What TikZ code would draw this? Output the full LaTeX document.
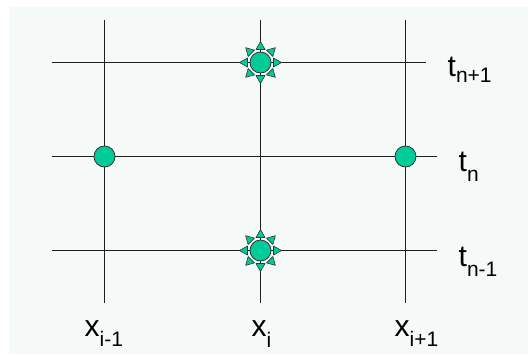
\documentclass[tikz,border=0pt]{standalone}
\usepackage{fontspec}
\setmainfont{Liberation Sans}
\definecolor{bgmint}{HTML}{F5FAF8}
\definecolor{ptgreen}{HTML}{00CC99}
\tikzset{
  gridline/.style={line width=1.1pt, draw=black!88},
  dot/.style={circle, fill=ptgreen, draw=black!80, line width=0.8pt, minimum size=21pt, inner sep=0pt},
  ray/.style={fill=ptgreen, draw=black!80, line width=0.6pt, line join=round},
  lbl/.style={anchor=base west, inner sep=0pt, font=\fontsize{30}{36}\selectfont},
}
\newcommand{\mylbl}[3]{#1\raisebox{-#2pt}{\fontsize{21}{25}\selectfont #3}}
\begin{document}
\begin{tikzpicture}[x={(1pt,0pt)}, y={(0pt,-1pt)}]
\useasboundingbox (0,0) rectangle (528,354);
\fill[bgmint] (9,7) rectangle (528,354);
% grid coordinates
\coordinate (v1t) at (104.5,20);  \coordinate (v1b) at (104.5,303);
\coordinate (v2t) at (260.5,20);  \coordinate (v2b) at (260.5,303);
\coordinate (v3t) at (405.5,20);  \coordinate (v3b) at (405.5,303);
\coordinate (h1l) at (52,62.5);   \coordinate (h1r) at (426,62.5);
\coordinate (h2l) at (52,156.5);  \coordinate (h2r) at (437,156.5);
\coordinate (h3l) at (52,250.5);  \coordinate (h3r) at (437,250.5);
\draw[gridline] (v1t) -- (v1b);
\draw[gridline] (v2t) -- (v2b);
\draw[gridline] (v3t) -- (v3b);
\draw[gridline] (h1l) -- (h1r);
\draw[gridline] (h2l) -- (h2r);
\draw[gridline] (h3l) -- (h3r);
% points
\node[dot] (pl) at (104.5,156.5) {};
\node[dot] (pr) at (405.5,156.5) {};
\foreach \cy in {62.5,250.5}{
  \foreach \a in {0,45,...,315}{
    \begin{scope}[shift={(260.5,\cy)}, rotate=\a]
      \filldraw[ray] (13,4.5) -- (21,0) -- (13,-4.5) -- cycle;
    \end{scope}
  }
}
\node[dot] (pt) at (260.5,62.5) {};
\node[dot] (pb) at (260.5,250.5) {};
% labels
\node[lbl] (tnp) at (447.5,76) {\mylbl{t}{6}{n+1}};
\node[lbl] (tn)  at (458.5,171) {\mylbl{t}{10}{n}};
\node[lbl] (tnm) at (458.5,266) {\mylbl{t}{10}{n-1}};
\node[lbl] (xim) at (84.5,336) {\mylbl{x}{10}{i-1}};
\node[lbl] (xi)  at (251.5,336) {\mylbl{x}{11}{i}};
\node[lbl] (xip) at (394.5,336) {\mylbl{x}{10}{i+1}};
\end{tikzpicture}
\end{document}
